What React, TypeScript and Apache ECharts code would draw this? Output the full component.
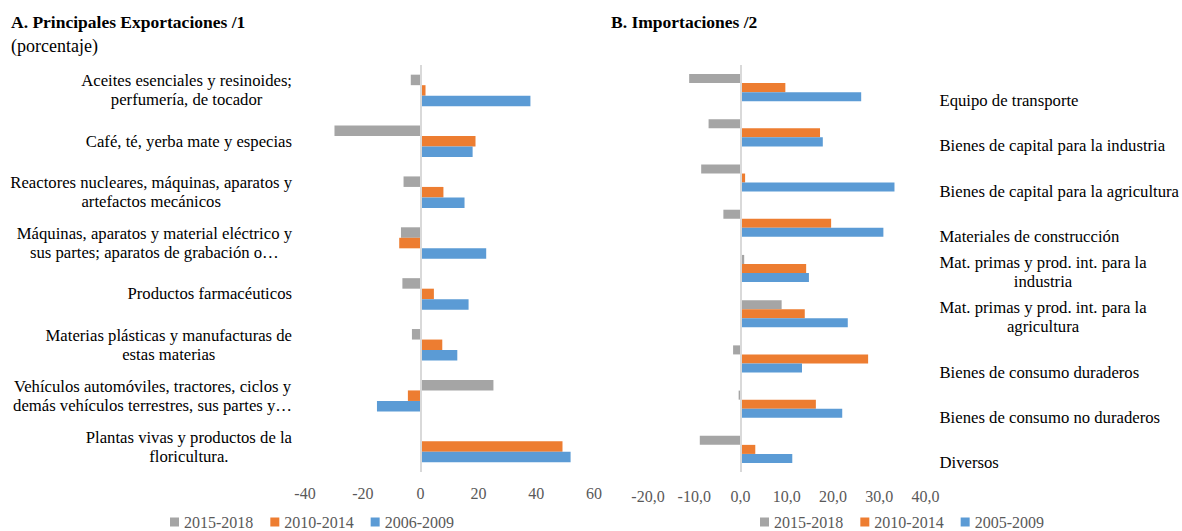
import React, { useEffect, useRef } from "react";
import * as echarts from "echarts";

const FONT = "Liberation Serif, Times New Roman, serif";

// Panel A: Principales Exportaciones (porcentaje)
const exportCategories = [
  "Aceites esenciales y resinoides;\nperfumería, de tocador",
  "Café, té, yerba mate y especias",
  "Reactores nucleares, máquinas, aparatos y\nartefactos mecánicos",
  "Máquinas, aparatos y material eléctrico y\nsus partes; aparatos de grabación o…",
  "Productos farmacéuticos",
  "Materias plásticas y manufacturas de\nestas materias",
  "Vehículos automóviles, tractores, ciclos y\ndemás vehículos terrestres, sus partes y…",
  "Plantas vivas y productos de la\nfloricultura.",
];
const exp2015_2018 = [-3.4, -29.8, -5.9, -6.8, -6.3, -3.0, 25.2, -0.2];
const exp2010_2014 = [1.7, 19.0, 7.9, -7.4, 4.6, 7.5, -4.4, 49.1];
const exp2006_2009 = [38.0, 18.0, 15.2, 22.7, 16.6, 12.7, -15.1, 51.9];
const exportSeriesNames = ["2015-2018", "2010-2014", "2006-2009"];

// Panel B: Importaciones
const importCategories = [
  "Equipo de transporte",
  "Bienes de capital para la industria",
  "Bienes de capital para la agricultura",
  "Materiales de construcción",
  "Mat. primas y prod. int. para la\nindustria",
  "Mat. primas y prod. int. para la\nagricultura",
  "Bienes de consumo duraderos",
  "Bienes de consumo no duraderos",
  "Diversos",
];
const imp2015_2018 = [-11.1, -6.9, -8.5, -3.7, 0.8, 8.9, -1.6, -0.4, -8.8];
const imp2010_2014 = [9.7, 17.2, 1.0, 19.6, 14.2, 13.9, 27.6, 16.3, 3.2];
const imp2005_2009 = [26.1, 17.8, 33.3, 30.9, 14.8, 23.2, 13.3, 22.0, 11.2];
const importSeriesNames = ["2015-2018", "2010-2014", "2005-2009"];

const COLORS = ["#A5A5A5", "#ED7D31", "#5B9BD5"];

export default function App() {
  const ref = useRef<HTMLDivElement>(null);

  useEffect(() => {
    if (!ref.current) return;
    const chart = echarts.init(ref.current, undefined, { renderer: "svg" });

    const zeroLine = {
      silent: true,
      symbol: ["none", "none"],
      label: { show: false },
      lineStyle: { color: "#D9D9D9", width: 2, type: "solid" },
      data: [{ xAxis: 0 }],
    };

    const catLabel = (lineHeight: number) => ({
      formatter: (v: string) => (v ? "{c|" + v + "}" : ""),
      rich: {
        c: {
          align: "center",
          fontFamily: FONT,
          fontSize: 16.7,
          lineHeight,
          color: "#000000",
        },
      },
    });

    const mkBar = (
      name: string,
      data: number[],
      color: string,
      xi: number,
      yi: number,
      gap: string,
      withLine: boolean
    ) => ({
      type: "bar",
      name,
      data,
      xAxisIndex: xi,
      yAxisIndex: yi,
      barGap: "0%",
      barCategoryGap: gap,
      itemStyle: { color },
      ...(withLine ? { markLine: zeroLine } : {}),
    });

    const valueAxisCommon = {
      type: "value",
      axisLine: { show: false },
      axisTick: { show: false },
      splitLine: { show: false },
    };

    const legendText = { fontFamily: FONT, fontSize: 16, color: "#595959" };

    const option = {
      animation: false,
      textStyle: { fontFamily: FONT },
      title: [
        {
          text: "A. Principales Exportaciones /1",
          left: 11,
          top: 13,
          padding: 0,
          textStyle: { fontFamily: FONT, fontSize: 17.5, fontWeight: "bold", color: "#000" },
        },
        {
          text: "(porcentaje)",
          left: 11,
          top: 37,
          padding: 0,
          textStyle: { fontFamily: FONT, fontSize: 18, fontWeight: "normal", color: "#000" },
        },
        {
          text: "B. Importaciones /2",
          left: 611,
          top: 13,
          padding: 0,
          textStyle: { fontFamily: FONT, fontSize: 17.5, fontWeight: "bold", color: "#000" },
        },
      ],
      legend: [
        {
          left: 170,
          top: 514,
          padding: 0,
          icon: "rect",
          itemWidth: 9,
          itemHeight: 9,
          itemGap: 17,
          data: exportSeriesNames,
          textStyle: legendText,
        },
        {
          left: 760,
          top: 514,
          padding: 0,
          icon: "rect",
          itemWidth: 9,
          itemHeight: 9,
          itemGap: 17,
          data: importSeriesNames,
          textStyle: legendText,
        },
      ],
      grid: [
        { left: 305, right: 588, top: 65, bottom: 59 },
        { left: 648, right: 255, top: 65, bottom: 59 },
      ],
      xAxis: [
        {
          ...valueAxisCommon,
          gridIndex: 0,
          min: -40,
          max: 60,
          interval: 20,
          axisLabel: { fontFamily: FONT, fontSize: 16, color: "#595959", margin: 13 },
        },
        {
          ...valueAxisCommon,
          gridIndex: 1,
          min: -20,
          max: 40,
          interval: 10,
          axisLabel: {
            fontFamily: FONT,
            fontSize: 16,
            color: "#595959",
            margin: 16,
            formatter: (v: number) => v.toFixed(1).replace(".", ","),
          },
        },
      ],
      yAxis: [
        {
          type: "category",
          gridIndex: 0,
          inverse: true,
          data: exportCategories,
          axisLine: { show: false, onZero: false },
          axisTick: { show: false },
          axisLabel: { margin: 13, align: "right", ...catLabel(19) },
        },
        {
          type: "category",
          gridIndex: 1,
          inverse: true,
          data: importCategories,
          axisLine: { show: false, onZero: false },
          axisTick: { show: false },
          axisLabel: { show: false },
        },
        {
          type: "category",
          gridIndex: 1,
          inverse: true,
          position: "right",
          boundaryGap: false,
          data: ["", ...importCategories],
          axisLine: { show: false, onZero: false },
          axisTick: { show: false },
          axisLabel: {
            interval: 0,
            margin: 14,
            align: "left",
            verticalAlign: "bottom",
            ...catLabel(19),
          },
        },
      ],
      series: [
        mkBar(exportSeriesNames[0], exp2015_2018, COLORS[0], 0, 0, "38%", true),
        mkBar(exportSeriesNames[1], exp2010_2014, COLORS[1], 0, 0, "38%", false),
        mkBar(exportSeriesNames[2], exp2006_2009, COLORS[2], 0, 0, "38%", false),
        mkBar(importSeriesNames[0], imp2015_2018, COLORS[0], 1, 1, "40%", true),
        mkBar(importSeriesNames[1], imp2010_2014, COLORS[1], 1, 1, "40%", false),
        mkBar(importSeriesNames[2], imp2005_2009, COLORS[2], 1, 1, "40%", false),
      ],
    };

    chart.setOption(option as any);
    return () => chart.dispose();
  }, []);

  return (
    <div
      ref={ref}
      style={{ position: "fixed", left: 0, top: 0, width: 1182, height: 531, background: "#fff" }}
    />
  );
}
